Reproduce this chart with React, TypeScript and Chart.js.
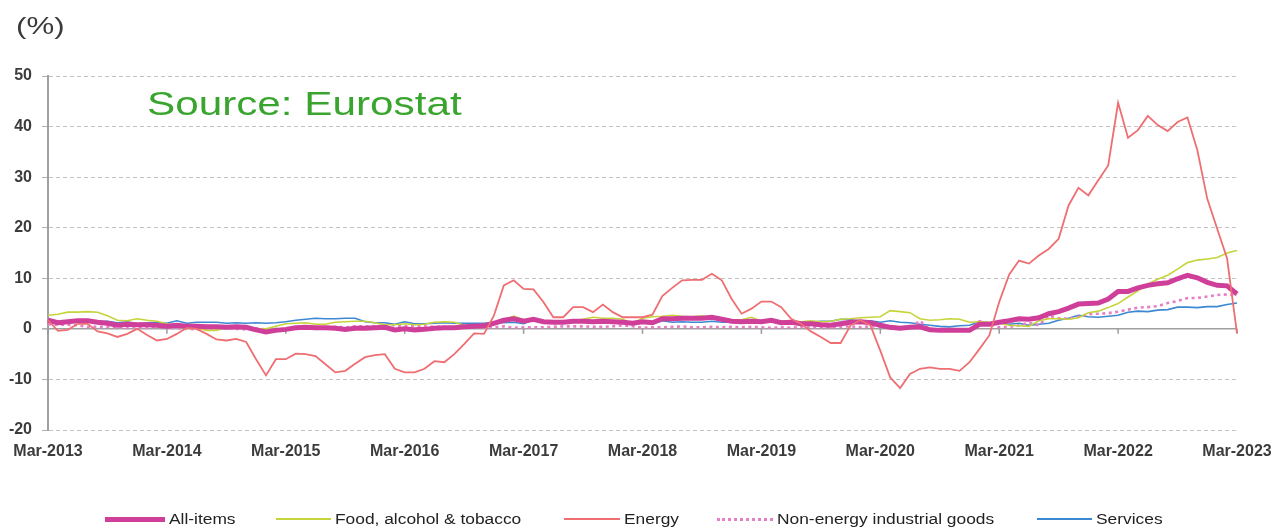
import React, { useEffect, useRef } from "react";
import { Chart, registerables } from "chart.js";

Chart.register(...registerables);

// Monthly categories, Mar-2013 .. Mar-2023
const MONTH_NAMES = ["Jan", "Feb", "Mar", "Apr", "May", "Jun", "Jul", "Aug", "Sep", "Oct", "Nov", "Dec"];
const categories: string[] = [];
for (let y = 2013; y <= 2023; y++) {
  for (let m = 0; m < 12; m++) {
    if (y === 2013 && m < 2) continue;
    if (y === 2023 && m > 2) continue;
    categories.push(`${MONTH_NAMES[m]}-${y}`);
  }
}

const tickLabels = ["Mar-2013", "Mar-2014", "Mar-2015", "Mar-2016", "Mar-2017", "Mar-2018", "Mar-2019", "Mar-2020", "Mar-2021", "Mar-2022", "Mar-2023"];
const yTicks = [50, 40, 30, 20, 10, 0, -10, -20];

// Annual rates of change (%), Mar-2013 .. Mar-2023
const allItems = [
  1.7, 1.2, 1.4, 1.6, 1.6, 1.3, 1.1, 0.7, 0.9, 0.8,
  0.8, 0.7, 0.5, 0.7, 0.5, 0.5, 0.4, 0.4, 0.3, 0.4, 0.3, -0.2,
  -0.6, -0.3, -0.1, 0.2, 0.3, 0.2, 0.2, 0.1, -0.1, 0.1, 0.1, 0.2,
  0.3, -0.2, 0.0, -0.2, -0.1, 0.1, 0.2, 0.2, 0.4, 0.5, 0.6, 1.1,
  1.7, 2.0, 1.5, 1.9, 1.4, 1.3, 1.3, 1.5, 1.5, 1.4, 1.5, 1.4,
  1.3, 1.1, 1.4, 1.2, 2.0, 2.0, 2.1, 2.1, 2.1, 2.3, 1.9, 1.5,
  1.4, 1.5, 1.4, 1.7, 1.2, 1.3, 1.0, 1.0, 0.8, 0.7, 1.0, 1.3,
  1.4, 1.2, 0.7, 0.3, 0.1, 0.3, 0.4, -0.2, -0.3, -0.3, -0.3, -0.3,
  0.9, 0.9, 1.3, 1.6, 2.0, 1.9, 2.2, 3.0, 3.4, 4.1, 4.9, 5.0,
  5.1, 5.9, 7.4, 7.4, 8.1, 8.6, 8.9, 9.1, 9.9, 10.6, 10.1, 9.2,
  8.6, 8.5, 6.9,
];

const foodAlcoholTobacco = [
  2.7, 2.9, 3.3, 3.3, 3.4, 3.3, 2.6, 1.7, 1.6, 2.0,
  1.7, 1.5, 1.0, 0.7, 0.1, 0.2, -0.3, -0.3, 0.3, 0.5, 0.5, 0.0,
  0.0, 0.5, 1.0, 1.1, 1.2, 0.9, 0.9, 1.3, 1.4, 1.5, 1.5, 1.2,
  0.8, 0.8, 1.0, 0.8, 0.9, 1.3, 1.4, 1.3, 0.7, 0.6, 0.7, 1.2,
  1.8, 2.5, 1.8, 1.5, 1.5, 1.3, 1.4, 1.4, 1.9, 2.3, 2.1, 2.1,
  1.9, 1.0, 2.1, 2.4, 2.5, 2.7, 2.5, 2.4, 2.6, 2.2, 1.9, 1.8,
  1.8, 2.3, 1.5, 1.5, 1.6, 1.6, 1.4, 1.6, 1.4, 1.5, 1.9, 2.0,
  2.2, 2.3, 2.4, 3.6, 3.4, 3.2, 2.0, 1.7, 1.8, 2.0, 1.9, 1.3,
  1.4, 1.3, 1.1, 0.7, 0.6, 0.5, 1.6, 2.0, 2.0, 1.9, 2.2, 3.2,
  3.5, 4.2, 5.0, 6.3, 7.5, 8.9, 9.8, 10.6, 11.8, 13.1, 13.6, 13.8,
  14.1, 15.0, 15.5,
];

const energy = [
  1.7, -0.4, -0.2, 1.0, 1.0, -0.5, -0.9, -1.6, -1.0, 0.0,
  -1.2, -2.3, -2.0, -1.0, 0.2, 0.0, -1.0, -2.1, -2.3, -2.0, -2.6, -6.0,
  -9.2, -6.0, -6.0, -4.9, -5.0, -5.4, -7.0, -8.6, -8.3, -6.9, -5.6, -5.2,
  -5.0, -7.9, -8.6, -8.6, -7.9, -6.4, -6.6, -5.0, -3.0, -0.9, -1.0, 2.6,
  8.6, 9.6, 7.9, 7.8, 5.3, 2.3, 2.3, 4.3, 4.3, 3.3, 4.8, 3.3,
  2.3, 2.3, 2.3, 2.8, 6.5, 8.1, 9.6, 9.7, 9.7, 10.9, 9.6, 5.9,
  3.0, 4.0, 5.4, 5.4, 4.3, 2.0, 1.0, -0.5, -1.6, -2.8, -2.8, 0.7,
  1.7, 0.7, -4.3, -9.6, -11.7, -8.9, -7.9, -7.6, -7.9, -7.9, -8.3, -6.6,
  -4.0, -1.3, 5.3, 10.7, 13.5, 12.9, 14.5, 15.8, 17.8, 24.4, 27.9, 26.4,
  29.4, 32.3, 44.7, 37.8, 39.3, 42.1, 40.3, 39.1, 40.9, 41.8, 35.3, 25.7,
  19.8, 13.9, -0.9,
];

const nonEnergyIndustrialGoods = [
  0.9, 0.8, 0.8, 0.7, 0.4, 0.4, 0.4, 0.3, 0.2, 0.3,
  0.2, 0.4, 0.2, 0.1, 0.0, -0.1, 0.0, 0.3, 0.2, 0.0, -0.1, 0.1,
  -0.1, 0.0, -0.1, 0.2, 0.3, 0.2, 0.3, 0.4, 0.3, 0.5, 0.5, 0.5,
  0.7, 0.7, 0.5, 0.5, 0.5, 0.4, 0.4, 0.3, 0.3, 0.3, 0.3, 0.3,
  0.5, 0.2, 0.3, 0.3, 0.3, 0.4, 0.5, 0.5, 0.5, 0.4, 0.4, 0.5,
  0.7, 0.5, 0.2, 0.3, 0.3, 0.4, 0.5, 0.3, 0.3, 0.4, 0.3, 0.4,
  0.3, 0.4, 0.3, 0.2, 0.3, 0.2, 0.4, 0.3, 0.3, 0.3, 0.4, 0.5,
  0.3, 0.5, 0.5, 0.3, 0.2, 0.2, 1.6, -0.1, -0.1, -0.1, -0.3, -0.5,
  1.5, 1.0, 0.3, 0.4, 0.7, 1.2, 0.7, 2.6, 2.1, 2.0, 2.4, 2.9,
  3.0, 3.1, 3.4, 3.8, 4.2, 4.3, 4.5, 5.1, 5.5, 6.1, 6.1, 6.4,
  6.7, 6.8, 6.6,
];

const services = [
  1.8, 1.1, 1.5, 1.4, 1.4, 1.4, 1.5, 1.2, 1.4, 1.0,
  1.2, 1.3, 1.1, 1.6, 1.1, 1.3, 1.3, 1.3, 1.1, 1.2, 1.1, 1.2,
  1.1, 1.2, 1.4, 1.7, 1.9, 2.1, 2.0, 2.0, 2.1, 2.1, 1.4, 1.2,
  1.2, 0.9, 1.4, 1.0, 1.0, 1.1, 1.2, 1.1, 1.1, 1.1, 1.1, 1.3,
  1.2, 1.3, 1.0, 1.8, 1.3, 1.6, 1.5, 1.6, 1.5, 1.2, 1.2, 1.3,
  1.2, 1.3, 1.5, 1.0, 1.6, 1.3, 1.4, 1.3, 1.3, 1.5, 1.3, 1.3,
  1.2, 1.4, 1.1, 1.9, 1.0, 1.6, 1.2, 1.3, 1.5, 1.5, 1.9, 1.8,
  1.5, 1.6, 1.3, 1.6, 1.3, 1.2, 0.9, 0.7, 0.5, 0.4, 0.6, 0.7,
  1.4, 1.2, 1.3, 0.9, 1.1, 0.7, 0.9, 1.1, 1.7, 2.1, 2.7, 2.4,
  2.3, 2.5, 2.7, 3.3, 3.5, 3.4, 3.7, 3.8, 4.3, 4.3, 4.2, 4.4,
  4.4, 4.8, 5.1,
];

const COLORS = {
  all: "#cf3f9a",
  food: "#c5d43a",
  energy: "#ee6e72",
  neig: "#e77fc6",
  services: "#3d88d2",
};

const FONT = 'Arial, "Liberation Sans", Helvetica, sans-serif';

const zeroTicksPlugin = {
  id: "zeroTicks",
  beforeDatasetsDraw(chart: any) {
    const { ctx, scales } = chart;
    const x = scales.x;
    const y = scales.y;
    const y0 = y.getPixelForValue(0);
    ctx.save();
    ctx.strokeStyle = "#9a9a9a";
    ctx.lineWidth = 1.5;
    for (let i = 0; i < categories.length; i++) {
      if (!tickLabels.includes(categories[i])) continue;
      const px = x.getPixelForValue(i);
      ctx.beginPath();
      ctx.moveTo(px, y0);
      ctx.lineTo(px, y0 + 5);
      ctx.stroke();
    }
    ctx.restore();
  },
};

const legendItems = [
  { label: "All-items", color: COLORS.all, width: 5, style: "solid", lineX: 105, lineW: 60 },
  { label: "Food, alcohol & tobacco", color: COLORS.food, width: 2, style: "solid", lineX: 276, lineW: 55 },
  { label: "Energy", color: COLORS.energy, width: 2, style: "solid", lineX: 564, lineW: 56 },
  { label: "Non-energy industrial goods", color: COLORS.neig, width: 3, style: "dotted", lineX: 717, lineW: 56 },
  { label: "Services", color: COLORS.services, width: 2, style: "solid", lineX: 1037, lineW: 55 },
];

export default function App() {
  const canvasRef = useRef<HTMLCanvasElement | null>(null);

  useEffect(() => {
    if (!canvasRef.current) return;
    const chart = new Chart(canvasRef.current, {
      type: "line",
      data: {
        labels: categories,
        datasets: [
          { label: "Energy", data: energy, borderColor: COLORS.energy, borderWidth: 1.8, pointRadius: 0, tension: 0, order: 0 },
          { label: "All-items", data: allItems, borderColor: COLORS.all, borderWidth: 5, pointRadius: 0, tension: 0, order: 1 },
          { label: "Food, alcohol & tobacco", data: foodAlcoholTobacco, borderColor: COLORS.food, borderWidth: 1.6, pointRadius: 0, tension: 0, order: 2 },
          { label: "Non-energy industrial goods", data: nonEnergyIndustrialGoods, borderColor: COLORS.neig, borderWidth: 2.6, borderDash: [3, 3.5], pointRadius: 0, tension: 0, order: 3 },
          { label: "Services", data: services, borderColor: COLORS.services, borderWidth: 1.6, pointRadius: 0, tension: 0, order: 4 },
        ],
      },
      options: {
        animation: false,
        responsive: false,
        devicePixelRatio: 1,
        layout: { padding: { left: 0, right: 35, top: 76, bottom: 60 } },
        plugins: { legend: { display: false }, tooltip: { enabled: false } },
        scales: {
          x: {
            type: "category",
            offset: false,
            grid: { display: false, drawTicks: false },
            border: { display: false },
            ticks: {
              autoSkip: false,
              maxRotation: 0,
              minRotation: 0,
              padding: 12,
              color: "#3c3c3c",
              font: { family: FONT, size: 16, weight: "bold" },
              callback: function (this: any, value: any) {
                const lab = this.getLabelForValue(value);
                return tickLabels.includes(lab) ? lab : null;
              },
            },
            afterFit: (scale: any) => {
              scale.height = 40;
              scale.paddingLeft = 0;
              scale.paddingRight = 0;
            },
          },
          y: {
            min: -20,
            max: 50,
            afterBuildTicks: (scale: any) => {
              scale.ticks = yTicks.map((v) => ({ value: v }));
            },
            grid: {
              color: (c: any) => (c.tick && c.tick.value === 0 ? "#a0a0a0" : "#c4c4c4"),
              lineWidth: (c: any) => (c.tick && c.tick.value === 0 ? 1.6 : 1),
              tickLength: 6,
              tickColor: "#b0b0b0",
            },
            border: {
              display: true,
              color: "#a0a0a0",
              width: 2,
              dash: (c: any) => (c.type === "tick" && c.tick && c.tick.value !== 0 ? [4, 3] : []),
            },
            ticks: {
              padding: 10,
              color: "#3c3c3c",
              font: { family: FONT, size: 16, weight: "bold" },
            },
            afterFit: (scale: any) => {
              scale.width = 48;
            },
          },
        },
      },
      plugins: [zeroTicksPlugin],
    } as any);
    return () => chart.destroy();
  }, []);

  return (
    <div style={{ position: "absolute", left: 0, top: 0, width: 1272, height: 530, background: "#fff", overflow: "hidden", fontFamily: FONT }}>
      <canvas ref={canvasRef} width={1272} height={530} style={{ position: "absolute", left: 0, top: 0, width: 1272, height: 530 }} />
      <div style={{ position: "absolute", left: 16, top: 12, fontSize: 24, color: "#3a3a3a", whiteSpace: "nowrap", transform: "scaleX(1.3)", transformOrigin: "left top", lineHeight: "normal" }}>
        (%)
      </div>
      <div style={{ position: "absolute", left: 147, top: 85, fontSize: 33, color: "#3aa52e", whiteSpace: "nowrap", transform: "scaleX(1.28)", transformOrigin: "left top", lineHeight: "normal" }}>
        Source: Eurostat
      </div>
      {legendItems.map((it) => (
        <React.Fragment key={it.label}>
          <div
            style={{
              position: "absolute",
              left: it.lineX,
              top: 519 - it.width / 2,
              width: it.lineW,
              height: 0,
              borderTop: `${it.width}px ${it.style} ${it.color}`,
            }}
          />
          <div
            style={{
              position: "absolute",
              left: it.lineX + it.lineW + 4,
              top: 510,
              fontSize: 14,
              lineHeight: "18px",
              color: "#222",
              whiteSpace: "nowrap",
              transform: "scaleX(1.24)",
              transformOrigin: "left top",
            }}
          >
            {it.label}
          </div>
        </React.Fragment>
      ))}
    </div>
  );
}
